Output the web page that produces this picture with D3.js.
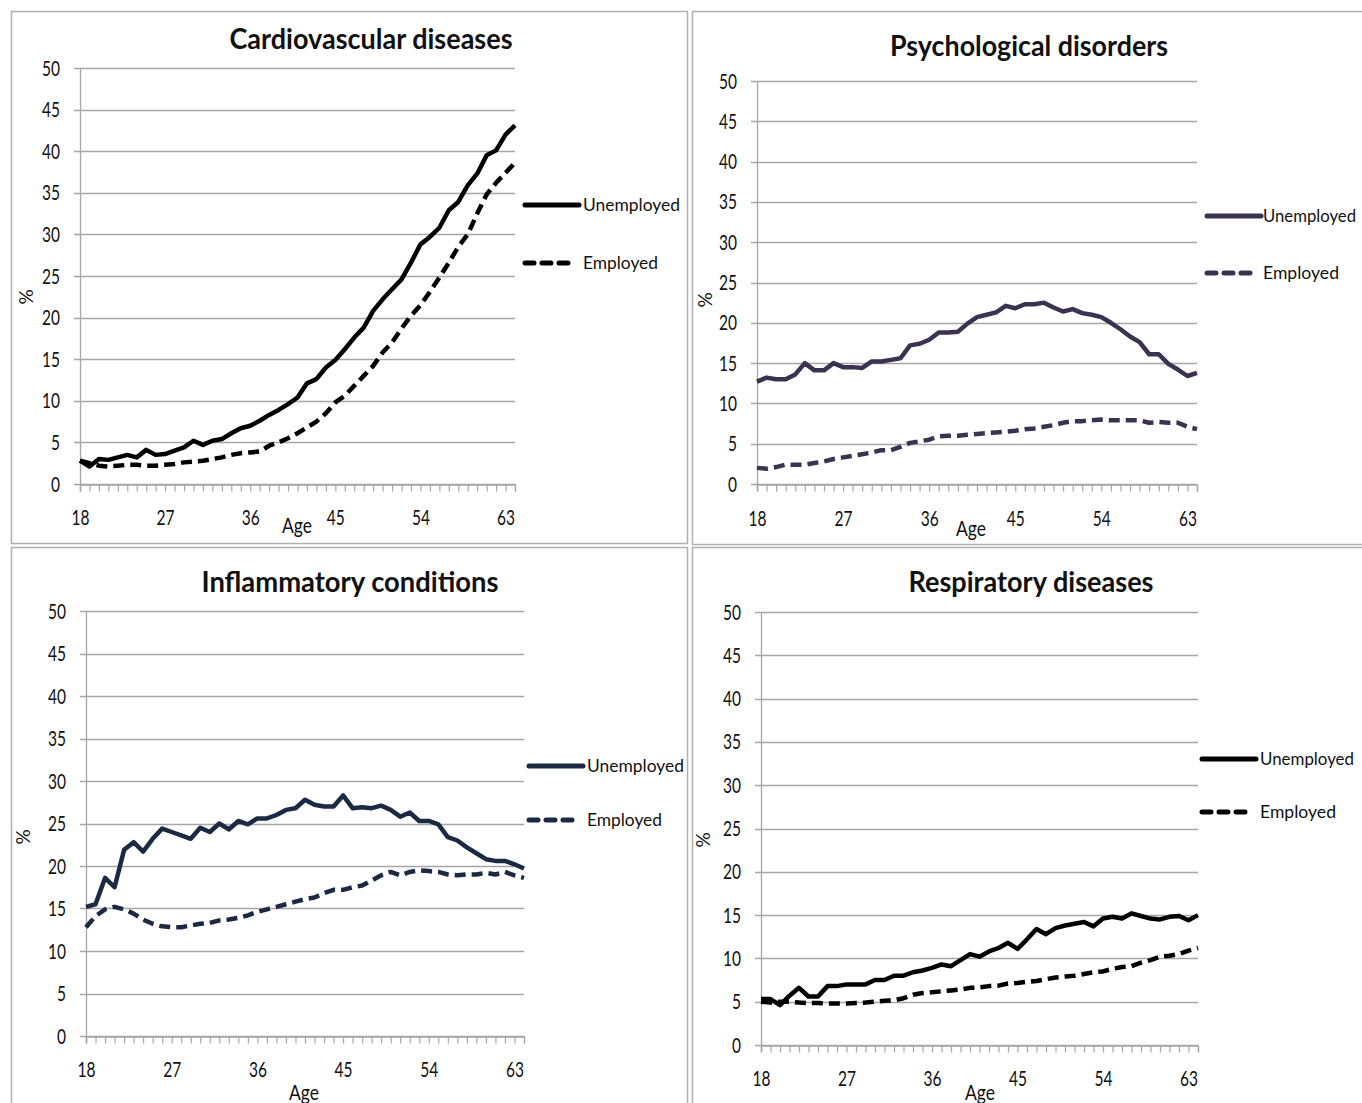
<!DOCTYPE html>
<html><head><meta charset="utf-8">
<script src="https://cdn.jsdelivr.net/npm/d3@7"></script>
<style>
body{margin:0;background:#fff}
svg{display:block}
text{font-family:Lato,"Liberation Sans Narrow","DejaVu Sans Condensed",sans-serif;fill:#111}
</style>
</head><body>
<svg id="c" width="1362" height="1103"></svg>
<script>
// ---------- DATA ----------
const ages = [18,19,20,21,22,23,24,25,26,27,28,29,30,31,32,33,34,35,36,37,38,39,40,41,42,43,44,45,46,47,48,49,50,51,52,53,54,55,56,57,58,59,60,61,62,63,64];
const xTickLabels = [18,27,36,45,54,63];
const yTicks = [0,5,10,15,20,25,30,35,40,45,50];
const seriesNames = ["Unemployed","Employed"];
const titles = ["Cardiovascular diseases","Psychological disorders","Inflammatory conditions","Respiratory diseases"];
const xAxisTitle = "Age";
const yAxisTitle = "%";

const cardioUnemployed = [2.8,2.1,3.0,2.9,3.2,3.5,3.2,4.1,3.5,3.6,4.0,4.4,5.2,4.7,5.2,5.4,6.1,6.7,7.0,7.6,8.3,8.9,9.6,10.4,12.1,12.6,14.0,14.9,16.2,17.6,18.8,20.8,22.2,23.4,24.6,26.6,28.8,29.7,30.8,32.9,33.9,35.9,37.3,39.5,40.1,42.0,43.1];
const cardioEmployed   = [2.8,2.5,2.2,2.1,2.2,2.3,2.3,2.2,2.2,2.3,2.4,2.6,2.7,2.8,3.0,3.2,3.5,3.7,3.8,3.9,4.6,5.0,5.5,6.1,6.8,7.5,8.5,9.8,10.6,11.8,13.0,14.2,15.8,17.0,18.7,20.2,21.5,23.1,24.8,26.6,28.5,30.0,32.5,34.8,36.2,37.4,38.6];

const psychUnemployed = [12.7,13.2,13.0,13.0,13.6,15.0,14.1,14.1,15.0,14.5,14.5,14.4,15.2,15.2,15.4,15.6,17.2,17.4,17.9,18.8,18.8,18.9,19.9,20.7,21.0,21.3,22.1,21.8,22.3,22.3,22.5,21.9,21.4,21.7,21.2,21.0,20.7,20.0,19.2,18.3,17.6,16.1,16.1,14.9,14.2,13.4,13.8];
const psychEmployed   = [2.0,1.9,2.1,2.4,2.4,2.4,2.6,2.8,3.1,3.3,3.5,3.7,3.9,4.2,4.2,4.6,5.1,5.3,5.5,5.9,6.0,6.0,6.1,6.2,6.3,6.4,6.5,6.6,6.8,6.9,7.1,7.3,7.6,7.8,7.8,7.9,8.0,7.9,7.9,7.9,7.9,7.6,7.7,7.6,7.6,7.1,6.8];

const inflamUnemployed = [15.2,15.5,18.6,17.5,21.9,22.8,21.7,23.2,24.4,24.0,23.6,23.2,24.5,24.0,25.0,24.3,25.3,24.9,25.6,25.6,26.0,26.6,26.8,27.8,27.2,27.0,27.0,28.3,26.8,26.9,26.8,27.1,26.6,25.8,26.3,25.3,25.3,24.9,23.4,23.0,22.2,21.5,20.8,20.6,20.6,20.2,19.7];
const inflamEmployed   = [12.8,14.1,14.9,15.2,14.9,14.4,13.7,13.2,12.9,12.8,12.8,13.0,13.2,13.3,13.6,13.7,13.9,14.2,14.6,14.9,15.2,15.5,15.8,16.1,16.3,16.8,17.2,17.2,17.5,17.7,18.3,18.9,19.3,18.9,19.3,19.5,19.4,19.3,19.0,18.9,19.0,19.0,19.2,19.0,19.3,18.9,18.6];

const respUnemployed = [5.3,5.3,4.6,5.7,6.6,5.6,5.6,6.8,6.8,7.0,7.0,7.0,7.5,7.5,8.0,8.0,8.4,8.6,8.9,9.3,9.1,9.8,10.5,10.2,10.8,11.2,11.8,11.1,12.2,13.4,12.8,13.5,13.8,14.0,14.2,13.7,14.6,14.8,14.6,15.2,14.9,14.6,14.5,14.8,14.9,14.4,15.0];
const respEmployed   = [5.0,4.9,5.0,5.0,4.9,4.85,4.85,4.8,4.8,4.8,4.85,4.9,5.0,5.1,5.15,5.4,5.8,6.0,6.1,6.2,6.3,6.4,6.6,6.65,6.8,6.85,7.1,7.15,7.3,7.4,7.6,7.8,7.9,8.0,8.2,8.4,8.5,8.8,9.0,9.1,9.5,9.8,10.2,10.3,10.5,10.9,11.2];

// ---------- LAYOUT ----------
const panels = [
  {title:titles[0], s:[cardioUnemployed,cardioEmployed], color:"#000000",
   box:[11,11,676,532], px0:80, px1:515, py0:484, py50:68,
   tX:371, tY:49, tW:283, legX:523, legY:[205,263], legTX:583, legTW:[97,75], legFS:18,
   pctX:33, pctY:297, ageX:297, ageY:533, xlY:524},
  {title:titles[1], s:[psychUnemployed,psychEmployed], color:"#3b3150",
   box:[692,11,680,533], px0:757, px1:1197, py0:484, py50:81,
   tX:1029, tY:56, tW:278, legX:1205, legY:[216,273], legTX:1263, legTW:[93,76], legFS:17,
   pctX:712, pctY:300, ageX:971, ageY:536, xlY:525},
  {title:titles[2], s:[inflamUnemployed,inflamEmployed], color:"#1b2a42",
   box:[11,547,676,570], px0:86, px1:524, py0:1036, py50:611,
   tX:350, tY:592, tW:297, legX:527, legY:[766,820], legTX:587, legTW:[97,75], legFS:18,
   pctX:30, pctY:837, ageX:304, ageY:1100, xlY:1076},
  {title:titles[3], s:[respUnemployed,respEmployed], color:"#000000",
   box:[692,547,680,570], px0:761, px1:1198, py0:1045, py50:612,
   tX:1031, tY:592, tW:245, legX:1200, legY:[759,812], legTX:1260, legTW:[94,76], legFS:18,
   pctX:710, pctY:840, ageX:980, ageY:1100, xlY:1085}
];

const svg = d3.select("#c");
const gridCol = "#a6a6a6";
const digitW = 9;

panels.forEach(p => {
  const g = svg.append("g");
  g.append("rect").attr("x",p.box[0]+0.5).attr("y",p.box[1]+0.5)
    .attr("width",p.box[2]).attr("height",p.box[3])
    .attr("fill","#fff").attr("stroke","#b0b0b0").attr("stroke-width",1.5);

  const x = d3.scaleLinear().domain([ages[0], ages[ages.length-1]]).range([p.px0, p.px1]);
  const y = d3.scaleLinear().domain([0,50]).range([p.py0, p.py50]);

  // gridlines
  g.append("g").selectAll("line").data(yTicks).join("line")
    .attr("x1",p.px0-6).attr("x2",p.px1)
    .attr("y1",d=>Math.round(y(d))+0.5).attr("y2",d=>Math.round(y(d))+0.5)
    .attr("stroke",gridCol).attr("stroke-width",1.3);

  // y axis line
  g.append("line").attr("x1",p.px0+0.5).attr("x2",p.px0+0.5)
    .attr("y1",y(50)).attr("y2",y(0)+7).attr("stroke",gridCol).attr("stroke-width",1.3);

  // y tick labels via axis
  const ya = d3.axisLeft(y).tickValues(yTicks).tickSize(0).tickPadding(0);
  const yg = g.append("g").attr("transform",`translate(${p.px0-20},0)`).call(ya);
  yg.select(".domain").remove();
  yg.selectAll("text").attr("font-size",22).attr("fill","#111")
    .attr("textLength",d=>String(d).length*digitW).attr("lengthAdjust","spacingAndGlyphs")
    .style("font-family",'Lato,"Liberation Sans Narrow",sans-serif');

  // x ticks (every age) and labels
  const xa = d3.axisBottom(x).tickValues(ages).tickSize(7).tickFormat(d => xTickLabels.includes(d) ? d : "");
  const xg = g.append("g").attr("transform",`translate(0,${Math.round(y(0))+0.5})`).call(xa);
  xg.select(".domain").attr("stroke",gridCol).attr("stroke-width",1.3);
  xg.selectAll(".tick line").attr("stroke",gridCol).attr("stroke-width",1.2);
  xg.selectAll(".tick text").filter(d=>xTickLabels.includes(d))
    .attr("font-size",22).attr("fill","#111").attr("dy",null)
    .attr("y", p.xlY - Math.round(y(0)))
    .attr("textLength",d=>String(d).length*digitW).attr("lengthAdjust","spacingAndGlyphs")
    .style("font-family",'Lato,"Liberation Sans Narrow",sans-serif');

  // lines
  const line = d3.line().x((d,i)=>x(ages[i])).y(d=>y(d));
  p.s.forEach((vals,k) => {
    g.append("path").datum(vals).attr("d",line)
      .attr("fill","none").attr("stroke",p.color).attr("stroke-width",4.5)
      .attr("stroke-linejoin","round")
      .attr("stroke-dasharray", k===1 ? "11,6" : null);
  });

  // legend
  seriesNames.forEach((nm,k) => {
    const ly = p.legY[k];
    g.append("line").attr("x1",p.legX+2).attr("x2",p.legX + (k===0?56:48))
      .attr("y1",ly).attr("y2",ly).attr("stroke",p.color).attr("stroke-width",5)
      .attr("stroke-linecap","round")
      .attr("stroke-dasharray", k===1 ? "9,8" : null);
    g.append("text").attr("x",p.legTX).attr("y",ly+6).attr("font-size",p.legFS)
      .attr("textLength",p.legTW[k]).attr("lengthAdjust","spacingAndGlyphs").text(nm);
  });

  // title
  g.append("text").attr("x",p.tX).attr("y",p.tY).attr("text-anchor","middle")
    .attr("font-size",28).attr("font-weight","bold")
    .attr("textLength",p.tW).attr("lengthAdjust","spacingAndGlyphs").text(p.title);

  // axis titles
  g.append("text").attr("transform",`translate(${p.pctX},${p.pctY}) rotate(-90)`)
    .attr("text-anchor","middle").attr("font-size",19).text(yAxisTitle);
  g.append("text").attr("x",p.ageX).attr("y",p.ageY).attr("text-anchor","middle")
    .attr("font-size",21).attr("textLength",30).attr("lengthAdjust","spacingAndGlyphs").text(xAxisTitle);
});
</script>
</body></html>
